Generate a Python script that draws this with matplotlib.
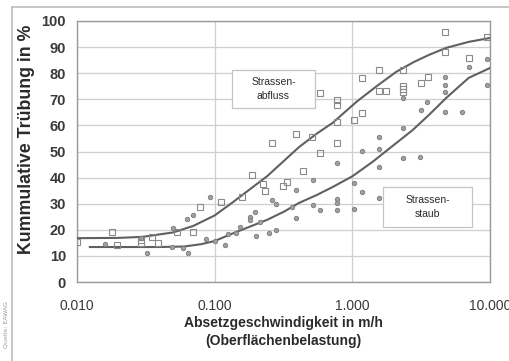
import numpy as np
import matplotlib.pyplot as plt
from matplotlib.lines import Line2D
from matplotlib.patches import Rectangle

# Strassenabfluss - measured points (open squares)
abfluss_v = [0.010, 0.018, 0.0195, 0.029, 0.029, 0.035, 0.039, 0.053, 0.070, 0.078,
             0.112, 0.157, 0.188, 0.223, 0.234, 0.263, 0.311, 0.333, 0.393, 0.441,
             0.513, 0.586, 0.586, 0.778, 0.778, 0.778, 0.778, 1.03, 1.18, 1.18,
             1.57, 1.57, 1.76, 2.34, 2.34, 2.34, 2.34, 3.16, 3.55, 4.72, 4.72,
             7.05, 9.5]
abfluss_pct = [15.3, 19.2, 14.2, 16.1, 14.9, 17.2, 14.9, 19.2, 19.2, 28.7,
               30.7, 32.6, 41.0, 37.5, 34.9, 53.3, 36.8, 38.3, 56.7, 42.5,
               55.6, 49.4, 72.4, 69.7, 67.8, 61.3, 53.3, 62.0, 64.8, 78.2,
               81.2, 73.2, 73.2, 81.2, 75.1, 73.9, 72.8, 76.2, 78.5, 95.8, 88.1,
               85.8, 93.9]

# Strassenstaub - measured points (filled dots)
staub_v = [0.016, 0.029, 0.032, 0.049, 0.050, 0.059, 0.063, 0.064, 0.070, 0.087,
           0.092, 0.100, 0.118, 0.124, 0.142, 0.152, 0.182, 0.182, 0.195, 0.201,
           0.215, 0.250, 0.263, 0.277, 0.281, 0.367, 0.393, 0.393, 0.52, 0.52,
           0.586, 0.778, 0.778, 0.778, 0.778, 1.03, 1.03, 1.18, 1.18, 1.57,
           1.57, 1.57, 1.57, 2.34, 2.34, 2.34, 3.1, 3.16, 3.5, 4.72,
           4.72, 4.72, 4.72, 6.27, 7.05, 9.5, 9.5]
staub_pct = [14.6, 16.9, 11.1, 13.4, 20.7, 13.0, 24.1, 11.1, 25.7, 16.5,
             32.6, 15.7, 14.2, 18.4, 18.8, 21.0, 24.9, 23.8, 26.8, 17.6,
             23.0, 18.8, 31.4, 29.9, 19.9, 28.7, 35.2, 24.5, 39.0, 29.5,
             27.6, 45.6, 31.8, 30.3, 27.6, 37.9, 28.0, 50.2, 34.5, 55.6,
             51.0, 44.1, 32.2, 70.5, 59.0, 47.5, 47.9, 65.9, 69.0, 78.5,
             75.5, 72.8, 65.1, 65.1, 82.4, 85.4, 75.5]

# fitted curves
abfluss_fit_v = [0.010, 0.020, 0.030, 0.050, 0.070, 0.100, 0.135, 0.180, 0.240, 0.320,
                 0.410, 0.550, 0.720, 1.07, 1.50, 2.08, 2.80, 3.60, 4.80, 7.0, 10.0]
abfluss_fit_pct = [16.8, 16.9, 17.3, 19.0, 21.5, 25.5, 30.5, 35.5, 40.5, 46.5,
                   51.7, 56.8, 61.0, 69.0, 75.0, 80.5, 84.3, 87.0, 89.7, 92.0, 93.5]
staub_fit_v = [0.0124, 0.020, 0.040, 0.060, 0.080, 0.100, 0.135, 0.180, 0.240, 0.320,
               0.410, 0.550, 0.720, 1.00, 1.40, 2.08, 2.74, 3.60, 4.80, 7.0, 10.0]
staub_fit_pct = [13.4, 13.4, 13.4, 13.6, 14.5, 15.7, 18.6, 21.2, 23.8, 27.0,
                 30.3, 33.3, 36.4, 40.5, 46.0, 53.2, 58.2, 64.0, 70.5, 78.2, 82.0]

xticks = [0.01, 0.1, 1, 10]
xtick_labels = ['0.010', '0.100', '1.000', '10.000']
yticks = list(range(0, 101, 10))

W, H = 510, 361
fig = plt.figure(figsize=(W / 100, H / 100), dpi=100)
ax = fig.add_axes([77 / W, 1 - 282 / H, (490 - 77) / W, (282 - 21) / H])

ax.set_xscale('log')
ax.set_xlim(0.01, 10)
ax.set_ylim(0, 100)

ax.plot(abfluss_fit_v, abfluss_fit_pct, color='#606060', lw=1.5, zorder=3)
ax.plot(staub_fit_v, staub_fit_pct, color='#606060', lw=1.5, zorder=3)
ax.plot(abfluss_v, abfluss_pct, ls='none', marker='s', ms=4, mfc='none',
        mec='#8a8a8a', mew=0.8, zorder=4)
ax.plot(staub_v, staub_pct, ls='none', marker='o', ms=3.2, mfc='#a0a0a0',
        mec='#7a7a7a', mew=0.6, zorder=4)

ax.set_xticks(xticks)
ax.set_xticklabels(xtick_labels)
ax.xaxis.set_minor_locator(plt.NullLocator())
ax.set_yticks(yticks)
ax.grid(True, color='#cfcfcf', lw=0.9)
ax.set_axisbelow(True)
ax.tick_params(length=0)
ax.tick_params(axis='x', pad=12, labelsize=10, labelcolor='#3a3a3a')
ax.tick_params(axis='y', pad=8, labelsize=10.5, labelcolor='#3a3a3a')
for lab in ax.get_xticklabels() + ax.get_yticklabels():
    lab.set_family('Liberation Sans')
for lab in ax.get_yticklabels():
    lab.set_fontweight('bold')
ax.get_xticklabels()[-1].set_x(9.8)
for s in ax.spines.values():
    s.set_color('#9a9a9a')
    s.set_linewidth(1.0)

fig.text(283 / W, 1 - 323 / H, 'Absetzgeschwindigkeit in m/h', ha='center', va='center',
         fontsize=10, fontweight='bold', family='Liberation Sans', color='#2a2a2a')
fig.text(283 / W, 1 - 341 / H, '(Oberflächenbelastung)', ha='center', va='center',
         fontsize=10, fontweight='bold', family='Liberation Sans', color='#2a2a2a')
fig.text(27 / W, 1 - 139 / H, 'Kummulative Trübung in %', ha='center', va='center',
         rotation=90, fontsize=12.8, fontweight='bold', family='Liberation Sans',
         color='#2a2a2a')

# label boxes
for (x0, y0, x1, y1, txt) in [(232, 70, 315, 108, 'Strassen-\nabfluss'),
                              (383, 187, 472, 227, 'Strassen-\nstaub')]:
    fig.add_artist(Rectangle((x0 / W, 1 - y1 / H), (x1 - x0) / W, (y1 - y0) / H,
                             transform=fig.transFigure, facecolor='white',
                             edgecolor='#c4c4c4', lw=0.9, zorder=5))
    fig.text((x0 + x1) / 2 / W, 1 - (y0 + y1) / 2 / H, txt, ha='center', va='center',
             fontsize=7.5, family='Liberation Sans', color='#2a2a2a',
             linespacing=1.4, zorder=6)

# outer frame
fig.add_artist(Line2D([12 / W, 1], [1 - 7 / H, 1 - 7 / H], transform=fig.transFigure,
                      color='#bdbdbd', lw=1.2))
fig.add_artist(Line2D([12 / W, 12 / W], [0, 1 - 7 / H], transform=fig.transFigure,
                      color='#bdbdbd', lw=1.2))
fig.text(6 / W, 1 - 325 / H, 'Quelle: EAWAG', rotation=90, ha='center', va='center',
         fontsize=4.5, color='#9a9a9a')

fig.savefig('out.png', dpi=100)
